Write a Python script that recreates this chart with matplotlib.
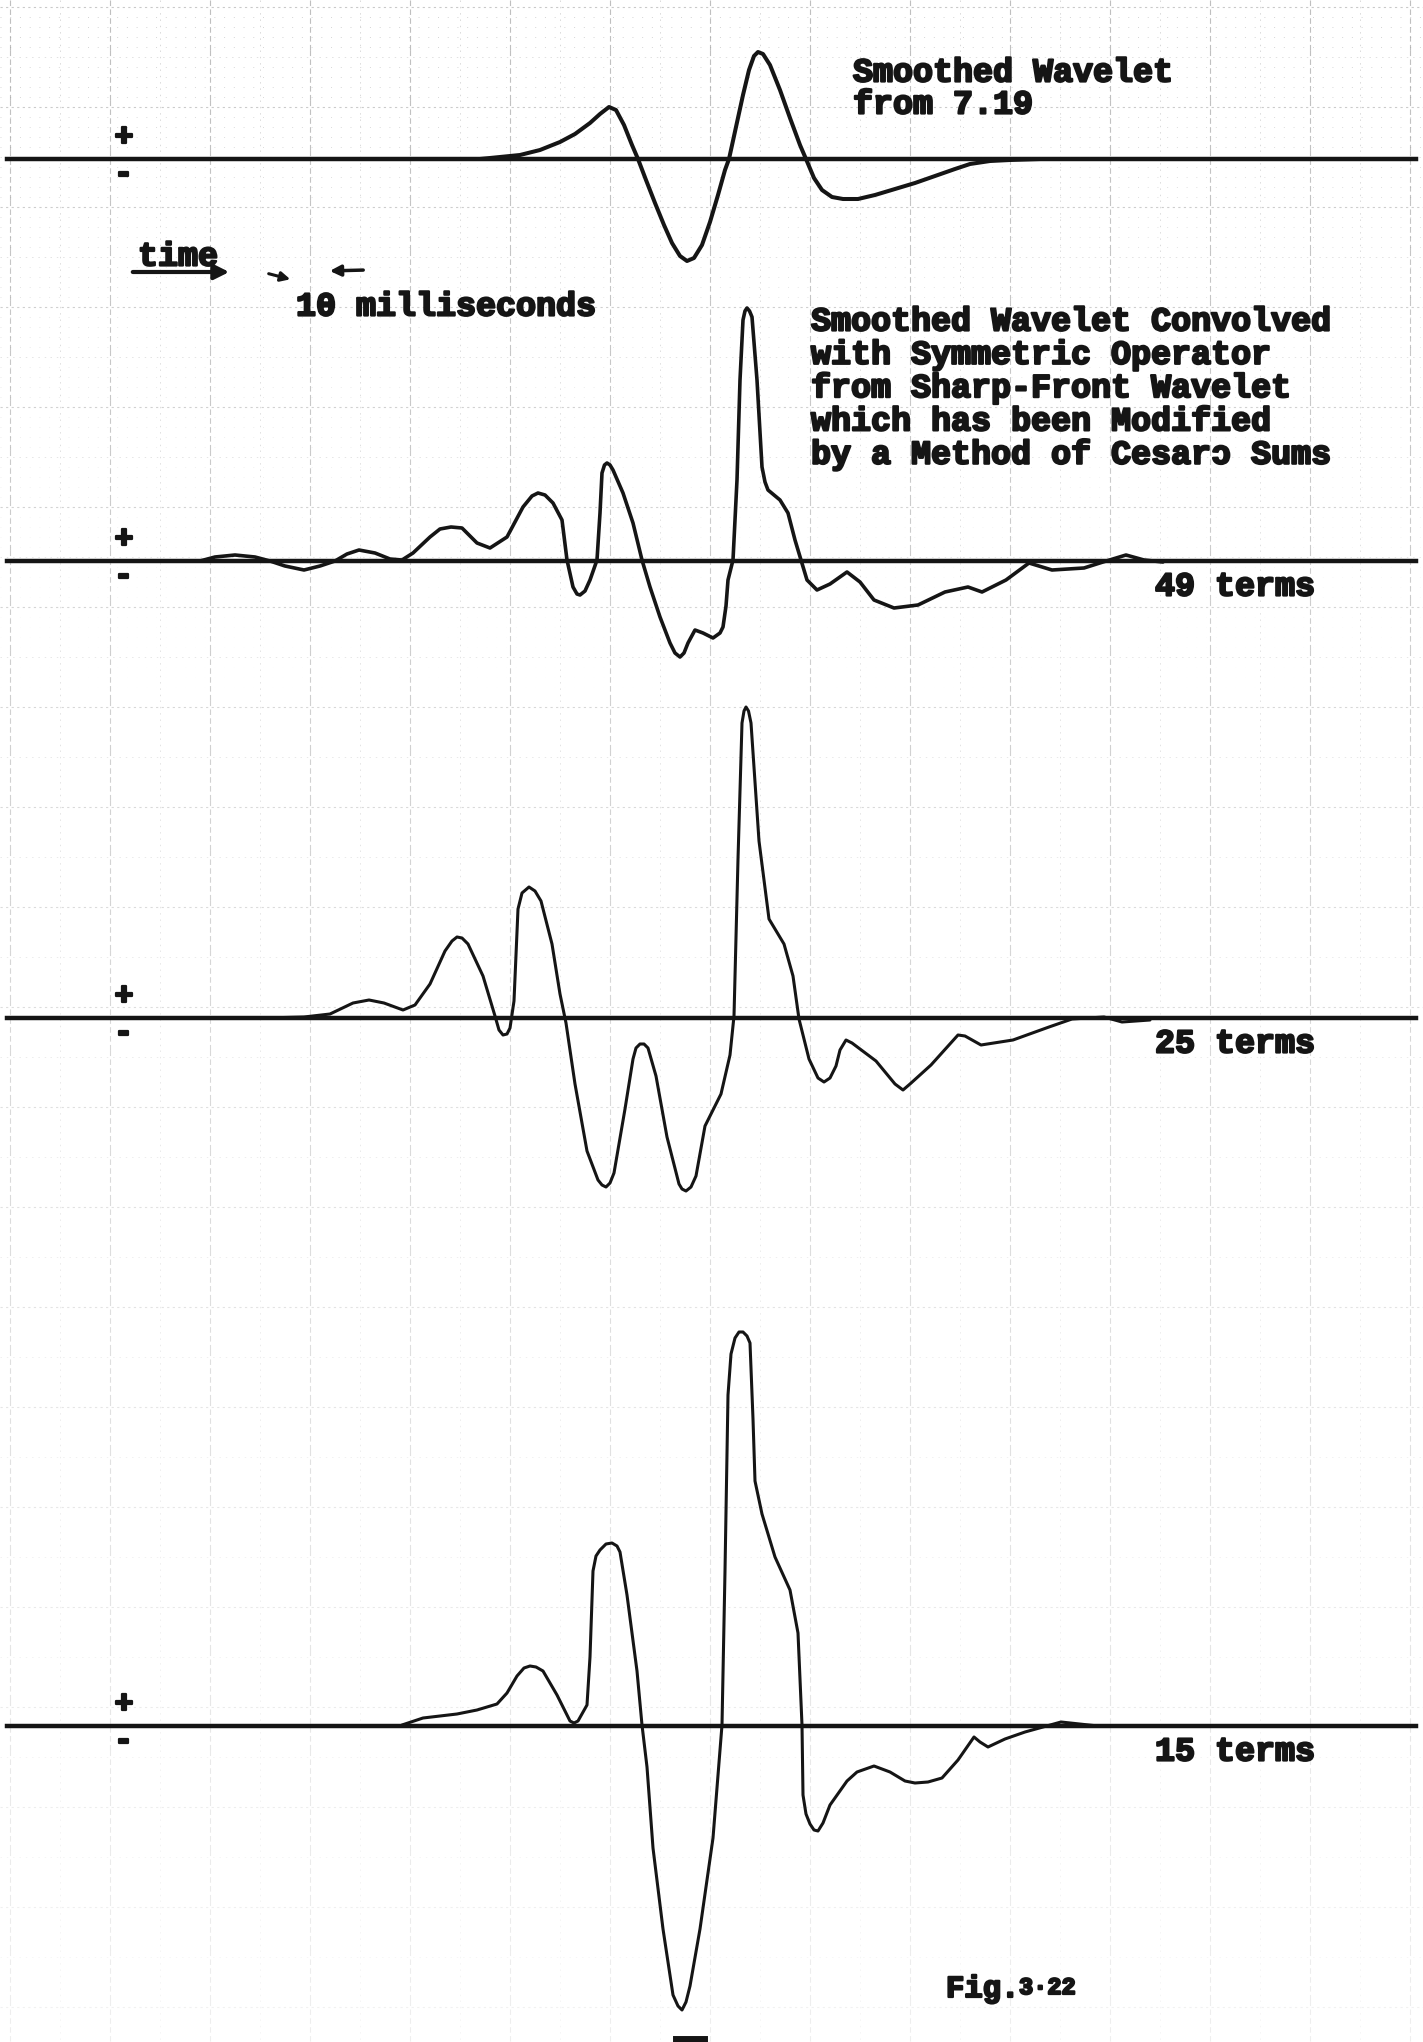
import numpy as np
import matplotlib.pyplot as plt
import matplotlib.patheffects as pe
from matplotlib.collections import LineCollection

# time in tenths of a grid division, amplitude in the same units (+ up)
t_smooth = [48.0, 50.0, 52.0, 54.0, 56.0, 57.5, 59.0, 60.0, 60.9, 61.6, 62.4, 63.2, 63.8,
            64.6, 65.5, 66.4, 67.2, 68.0, 68.7, 69.4, 70.2, 71.0, 71.8, 72.5, 72.9, 73.6,
            74.3, 74.9, 75.4, 75.8, 76.3, 77.0, 78.0, 79.0, 80.0, 80.6, 81.4, 82.2, 83.2,
            84.3, 85.8, 87.5, 89.5, 91.5, 93.5, 95.5, 97.0, 99.0, 101.0, 104.0]
a_smooth = [0.0, 0.2, 0.4, 0.9, 1.7, 2.5, 3.6, 4.5, 5.2, 4.9, 3.4, 1.4, 0.0,
            -2.1, -4.4, -6.6, -8.4, -9.7, -10.2, -9.9, -8.6, -6.3, -3.6, -1.1, 0.0, 3.2,
            6.4, 8.9, 10.3, 10.7, 10.5, 9.4, 6.9, 4.1, 1.4, 0.0, -1.9, -3.1, -3.8,
            -4.0, -4.0, -3.6, -3.0, -2.4, -1.7, -1.0, -0.5, -0.2, -0.1, 0.0]

t_49 = [20.0, 21.5, 23.5, 25.5, 27.0, 28.5, 30.4, 32.0, 33.5, 34.7, 35.9, 37.5, 39.0, 40.2,
        41.3, 43.0, 44.0, 45.1, 46.2, 47.7, 49.0, 50.7, 52.3, 53.2, 53.8, 54.5, 55.3, 56.2,
        56.7, 57.3, 57.7, 58.0, 58.5, 59.0, 59.7, 60.0, 60.2, 60.45, 60.7, 61.0, 61.3, 62.3,
        63.3, 64.2, 65.0, 66.0, 67.0, 67.5, 68.0, 68.4, 68.8, 69.5, 70.3, 71.3, 72.0, 72.3,
        72.6, 72.8, 73.3, 73.7, 74.0, 74.3, 74.5, 74.7, 74.95, 75.2, 75.7, 76.2, 76.5, 76.8,
        77.4, 78.0, 78.8, 79.5, 80.1, 80.7, 81.7, 83.0, 84.7, 86.0, 87.4, 89.4, 91.8, 94.5,
        96.8, 98.2, 100.6, 102.9, 105.2, 108.4, 110.3, 112.6, 114.4, 116.3]
a_49 = [0.0, 0.4, 0.6, 0.4, 0.0, -0.5, -0.9, -0.5, 0.0, 0.7, 1.1, 0.8, 0.2, 0.1,
        0.8, 2.4, 3.2, 3.4, 3.3, 1.8, 1.3, 2.4, 5.4, 6.5, 6.8, 6.6, 5.8, 4.1,
        0.1, -2.6, -3.3, -3.4, -3.0, -1.9, 0.1, 4.8, 8.8, 9.6, 9.8, 9.6, 9.1, 6.8,
        3.8, 0.1, -2.6, -5.6, -8.2, -9.2, -9.6, -9.2, -8.2, -6.9, -7.2, -7.7, -7.2, -6.6,
        -4.5, -1.9, 0.1, 8.1, 18.1, 24.1, 25.0, 25.3, 25.0, 24.4, 18.1, 9.4, 7.9, 7.1,
        6.6, 6.1, 4.8, 2.1, 0.1, -1.9, -2.9, -2.3, -1.1, -2.1, -3.9, -4.7, -4.4, -3.1,
        -2.6, -3.1, -1.9, -0.2, -0.9, -0.7, -0.1, 0.6, 0.1, -0.1]

t_25 = [26.5, 30.4, 33.0, 35.3, 36.9, 38.4, 40.3, 41.5, 43.0, 44.5, 45.2, 45.7, 46.2, 46.8,
        48.3, 49.5, 49.9, 50.3, 50.7, 51.0, 51.4, 51.8, 52.2, 52.9, 53.5, 54.1, 55.2, 56.0,
        56.6, 57.5, 58.7, 59.8, 60.2, 60.6, 61.0, 61.4, 62.5, 63.3, 63.6, 64.0, 64.4, 64.8,
        65.6, 66.7, 67.9, 68.2, 68.6, 69.1, 69.6, 70.5, 72.1, 73.0, 73.4, 73.8, 74.2, 74.4,
        74.6, 74.85, 75.1, 75.9, 76.9, 78.4, 79.3, 79.9, 80.9, 81.8, 82.4, 83.0, 83.6, 84.0,
        84.6, 85.2, 87.6, 89.5, 90.3, 91.0, 93.1, 95.8, 96.5, 98.1, 101.3, 104.9, 107.2,
        110.4, 112.2, 115.0]
a_25 = [0.0, 0.1, 0.4, 1.5, 1.8, 1.5, 0.8, 1.3, 3.4, 6.7, 7.7, 8.1, 8.0, 7.4,
        4.2, 0.2, -1.2, -1.7, -1.6, -1.0, 1.7, 10.9, 12.5, 13.1, 12.7, 11.7, 7.4, 2.4,
        -0.5, -6.6, -13.3, -16.2, -16.7, -16.9, -16.5, -15.5, -9.1, -4.1, -3.0, -2.6, -2.6, -3.0,
        -5.8, -11.9, -16.6, -17.1, -17.3, -16.9, -15.8, -10.8, -7.6, -3.7, 0.2, 15.9, 29.5, 30.7,
        31.1, 30.7, 29.5, 17.7, 9.9, 7.4, 4.2, -0.1, -4.1, -6.0, -6.4, -6.0, -4.8, -3.2,
        -2.2, -2.5, -4.3, -6.6, -7.2, -6.6, -4.7, -1.7, -1.8, -2.7, -2.2, -0.9, -0.1,
        0.1, -0.4, -0.2]

t_15 = [40.2, 42.3, 45.7, 47.7, 49.7, 50.7, 51.7, 52.4, 53.0, 53.6, 54.3, 55.7, 56.5, 57.0,
        57.4, 57.8, 58.7, 59.0, 59.3, 59.6, 60.0, 60.6, 61.2, 61.7, 62.0, 62.7, 63.7, 64.2,
        64.7, 65.3, 66.3, 67.3, 67.8, 68.2, 68.6, 69.0, 70.0, 71.3, 72.2, 72.5, 72.8, 73.1,
        73.5, 73.9, 74.3, 74.7, 75.0, 75.3, 75.5, 76.2, 77.5, 79.0, 79.8, 80.2, 80.3, 80.6,
        81.0, 81.4, 81.8, 82.3, 83.0, 84.7, 85.7, 87.4, 89.0, 90.5, 91.5, 92.8, 94.2, 95.8,
        97.4, 98.0, 98.8, 100.5, 102.5, 106.1, 109.8]
a_15 = [0.1, 0.8, 1.2, 1.6, 2.2, 3.3, 5.0, 5.8, 6.0, 5.9, 5.5, 3.1, 1.5, 0.5,
        0.3, 0.5, 2.1, 6.9, 15.5, 17.0, 17.6, 18.2, 18.3, 18.0, 17.4, 13.1, 5.5, 0.1,
        -4.1, -12.2, -20.3, -26.9, -28.0, -28.4, -27.6, -26.0, -20.3, -11.2, 0.1, 15.5, 33.1, 37.2,
        38.8, 39.4, 39.4, 39.0, 38.3, 30.7, 24.5, 21.2, 16.9, 13.6, 9.3, 0.1, -6.9, -8.8,
        -9.8, -10.4, -10.5, -9.7, -7.9, -5.5, -4.6, -4.0, -4.6, -5.5, -5.7, -5.6, -5.2, -3.4,
        -1.1, -1.6, -2.1, -1.3, -0.6, 0.4, 0.0]

term_labels = ["", "49 terms", "25 terms", "15 terms"]
title_top = ["Smoothed Wavelet", "from 7.19"]
title_mid = ["Smoothed Wavelet Convolved",
             "with Symmetric Operator",
             "from Sharp-Front Wavelet",
             "which has been Modified",
             "by a Method of Cesar\u0254 Sums"]

W, H = 1423, 2042
ink = "#151515"
heavy = [pe.withStroke(linewidth=1.6, foreground=ink)]
font = dict(family="Liberation Mono", weight="bold", color=ink, path_effects=heavy)

fig = plt.figure(figsize=(W / 100, H / 100), dpi=100)
fig.patch.set_facecolor("white")

# graph paper in pixel coordinates, fading toward the bottom of the sheet
bg = fig.add_axes([0, 0, 1, 1])
bg.set_xlim(0, W)
bg.set_ylim(H, 0)
bg.axis("off")


def fade(y):
    return 0.5 - 0.38 * (y / H)


major_v, mid_v = [], []
for x in range(10, W, 100):
    for y in range(0, H, 50):
        major_v.append(((x, y), (x, y + 50)))
        mid_v.append(((x + 50, y), (x + 50, y + 50)))
major_h, mid_h = [], []
for y in range(7, H, 100):
    for x in range(0, W, 50):
        major_h.append(((x, y), (x + 50, y)))
        mid_h.append(((x, y + 50), (x + 50, y + 50)))


def alphas(segs, scale):
    return [(0.5, 0.5, 0.5, scale * fade(s[0][1])) for s in segs]


bg.add_collection(LineCollection(major_v, colors=alphas(major_v, 1.0), linewidths=0.8,
                                 linestyles=(0, (5, 3))))
bg.add_collection(LineCollection(mid_v, colors=alphas(mid_v, 0.6), linewidths=0.7,
                                 linestyles=(0, (1.5, 5))))
bg.add_collection(LineCollection(major_h, colors=alphas(major_h, 0.85), linewidths=0.8,
                                 linestyles=(0, (2, 3))))
bg.add_collection(LineCollection(mid_h, colors=alphas(mid_h, 0.5), linewidths=0.7,
                                 linestyles=(0, (1.5, 5))))

# fine dotted rulings in the upper part of the sheet
fine = [((0, y), (W, y)) for y in range(17, 700, 10) if (y - 7) % 50]
bg.add_collection(LineCollection(fine, colors=[(0.5, 0.5, 0.5, 0.35 * (1 - s[0][1] / 700))
                                               for s in fine],
                                 linewidths=0.7, linestyles=(0, (1, 9))))

# the four traces, each on its own axes sharing the paper scale
times = [t_smooth, t_49, t_25, t_15]
amps = [a_smooth, a_49, a_25, a_15]
baselines = [159, 561, 1018, 1726]
widths = [2.9, 2.6, 2.2, 2.2]
for t, a, base, lw, lab in zip(times, amps, baselines, widths, term_labels):
    ax = fig.add_axes([0, 0, 1, 1])
    ax.set_facecolor("none")
    ax.set_xlim(0, W / 10)
    ax.set_ylim((base - H) / 10, base / 10)
    ax.axis("off")
    ax.axhline(0, xmin=0.005, xmax=0.995, color=ink, lw=3.2)
    ax.plot(t, a, color=ink, lw=lw, solid_joinstyle="round", solid_capstyle="round")
    bg.text(124, base - 21, "+", fontsize=23, ha="center", va="center", **font)
    bg.text(124, base + 15, "-", fontsize=23, ha="center", va="center", **font)
    if lab:
        bg.text(1155, base + 26, lab, fontsize=24, ha="left", va="center", **font)

for i, line in enumerate(title_top):
    bg.text(853, 73 + 32 * i, line, fontsize=24, ha="left", va="center", **font)
for i, line in enumerate(title_mid):
    bg.text(811, 322 + 33.3 * i, line, fontsize=24, ha="left", va="center", **font)

# time scale note
bg.text(138, 257, "time", fontsize=24, ha="left", va="center", **font)
bg.annotate("", xy=(232, 272), xytext=(130, 272),
            arrowprops=dict(arrowstyle="-|>", lw=3, color=ink, mutation_scale=22))
bg.annotate("", xy=(293, 280), xytext=(266, 273),
            arrowprops=dict(arrowstyle="-|>", lw=2.2, color=ink, mutation_scale=14))
bg.annotate("", xy=(327, 271), xytext=(366, 270),
            arrowprops=dict(arrowstyle="-|>", lw=2.5, color=ink, mutation_scale=16))
bg.text(296, 307, "10 milliseconds", fontsize=24, ha="left", va="center", **font)

bg.text(946, 1997, "Fig.", fontsize=22, ha="left", va="baseline", **font)
bg.text(1019, 1994, "3\u00b722", fontsize=17, ha="left", va="baseline", **font)
bg.plot([676, 704], [2039, 2039], color=ink, lw=5)

fig.savefig("out.png", dpi=100, facecolor="white")
